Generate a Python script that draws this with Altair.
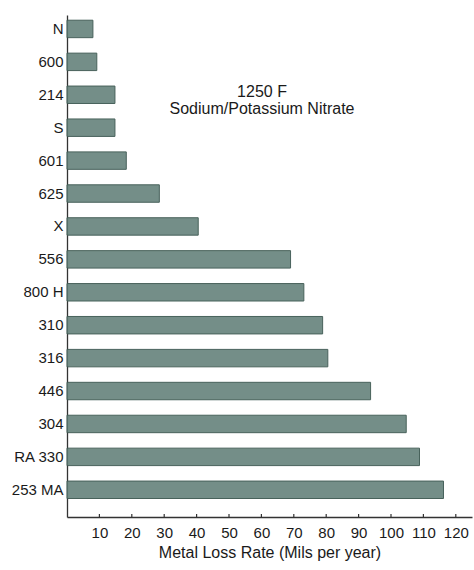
import altair as alt
import pandas as pd

# Alloys, top to bottom, and their metal loss rates (mils per year)
alloys = ["N", "600", "214", "S", "601", "625", "X", "556", "800 H",
          "310", "316", "446", "304", "RA 330", "253 MA"]
loss_rate = [8.0, 9.2, 14.8, 14.8, 18.3, 28.5, 40.5, 69.0, 73.1,
             78.9, 80.5, 93.7, 104.7, 108.8, 116.2]
x_ticks = [10, 20, 30, 40, 50, 60, 70, 80, 90, 100, 110, 120]
title_lines = ["1250 F", "Sodium/Potassium Nitrate"]

FONT = "Liberation Sans"
W, H = 405, 502

bars_df = pd.DataFrame({"alloy": alloys, "rate": loss_rate})
ticks_df = pd.DataFrame({"t": x_ticks})
title_df = pd.DataFrame({"line": title_lines, "row": [0, 1]})

x_scale = alt.Scale(domain=[0, 125], nice=False, zero=True)
x_axis = alt.Axis(values=x_ticks, title="Metal Loss Rate  (Mils per year)",
                  tickSize=0, labelPadding=8, labelFontSize=15,
                  labelOverlap=False, labelFlush=False, labelBound=False,
                  titleFontSize=16, titleFontWeight="normal",
                  titlePadding=4, labelColor="#1a1a1a", titleColor="#1a1a1a",
                  labelFont=FONT, titleFont=FONT, grid=False,
                  domainColor="#333", domainWidth=1.3)

bars = alt.Chart(bars_df).mark_bar(
    color="#6d8882", stroke="#3f5a53", strokeWidth=1, opacity=0.95
).encode(
    x=alt.X("rate:Q", scale=x_scale, axis=x_axis),
    y=alt.Y("alloy:N", sort=alloys,
            scale=alt.Scale(paddingInner=0.47, paddingOuter=0.36, align=0.22),
            axis=alt.Axis(title=None, ticks=False, labelPadding=4,
                          labelOverlap=False,
                          labelFontSize=15, labelFont=FONT, labelColor="#1a1a1a",
                          domainColor="#333", domainWidth=1.3)),
)

# short inward tick marks along the bottom axis
tick_marks = alt.Chart(ticks_df).mark_rule(color="#333", strokeWidth=1.2).encode(
    x=alt.X("t:Q", scale=x_scale, axis=x_axis),
    y=alt.value(H - 3),
    y2=alt.value(H),
)

title = alt.Chart(title_df).mark_text(
    font=FONT, fontSize=16, color="#1a1a1a", align="center"
).encode(
    text="line:N",
    x=alt.value(195),
    y=alt.Y("row:Q", axis=None, scale=alt.Scale(domain=[0, 1], range=[77, 94])),
)

chart = alt.layer(bars, tick_marks, title).resolve_scale(y="independent").properties(
    width=W, height=H,
    autosize=alt.AutoSizeParams(type="none"),
    padding={"left": 67, "top": 15, "right": 2, "bottom": 53},
    background="white",
).configure_view(stroke=None)

chart.save("out.html", embed_options={"renderer": "svg", "actions": False})
